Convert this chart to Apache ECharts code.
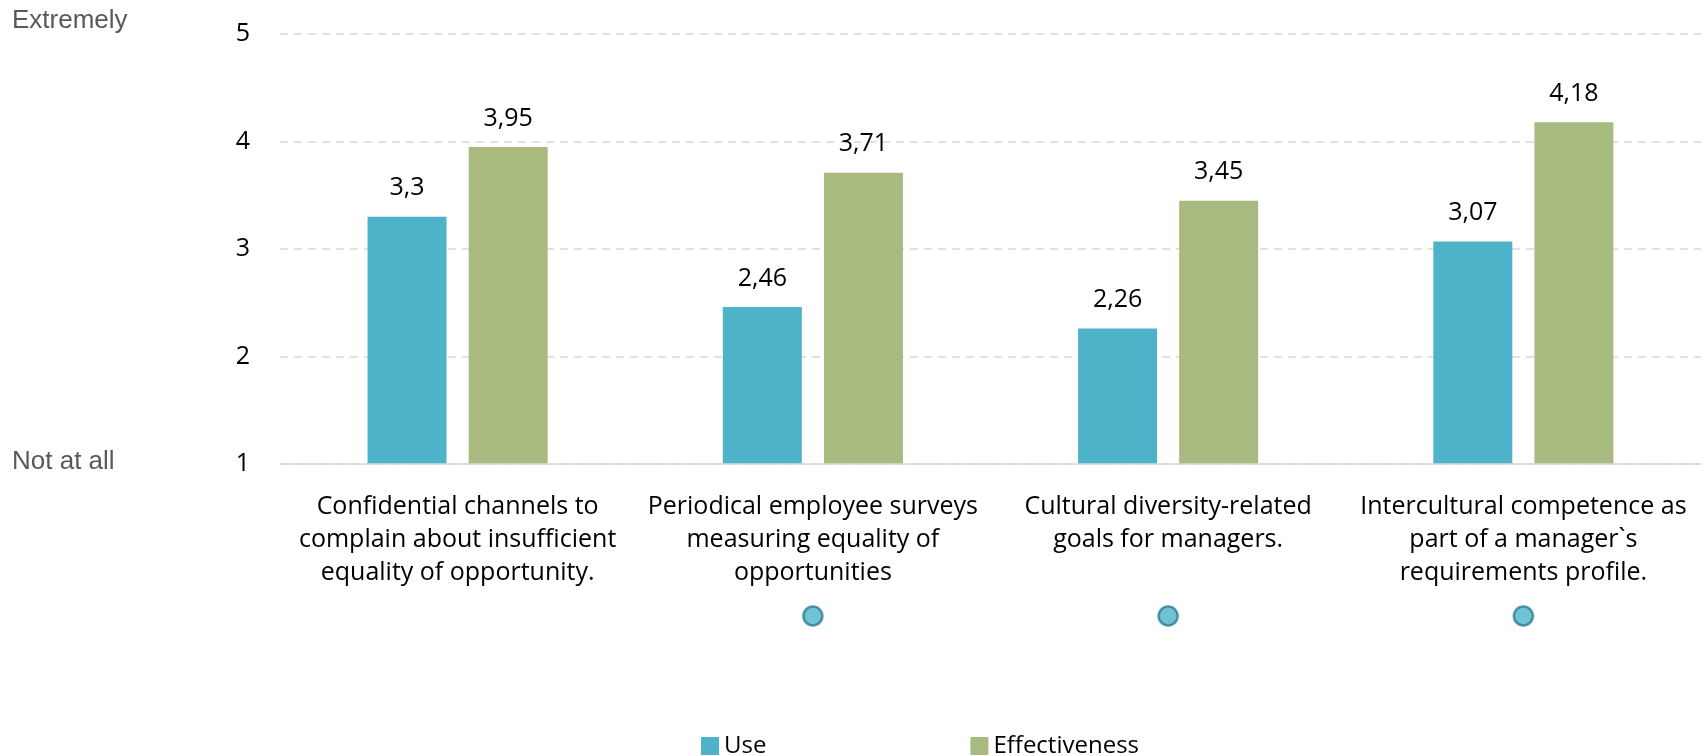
<!DOCTYPE html>
<html><head><meta charset="utf-8">
<script src="https://cdn.jsdelivr.net/npm/echarts@6/dist/echarts.min.js"></script>
<style>html,body{margin:0;padding:0;background:#fff}#c{width:1704px;height:756px}</style>
</head><body><div id="c"></div>
<script>
const categories = [
  "Confidential channels to\ncomplain about insufficient\nequality of opportunity.",
  "Periodical employee surveys\nmeasuring equality of\nopportunities",
  "Cultural diversity-related\ngoals for managers.",
  "Intercultural competence as\npart of a manager`s\nrequirements profile."
];
const useValues = [3.3, 2.46, 2.26, 3.07];
const effectivenessValues = [3.95, 3.71, 3.45, 4.18];
const dotCategories = [1, 2, 3];
const yTicks = [1, 2, 3, 4, 5];
const FONT = '"Open Sans"';
const chart = echarts.init(document.getElementById('c'));
const lbl = {
  show: true, position: 'top', distance: 16, color: '#000', fontFamily: FONT, fontSize: 25,
  formatter: p => String(p.value).replace('.', ',')
};
chart.setOption({
  animation: false,
  grid: [
    {left: 280, right: 3, top: 34, height: 430},
    {left: 280, right: 3, top: 596, height: 40}
  ],
  graphic: [
    {type: 'text', left: 12, top: 8, style: {text: 'Extremely', fill: '#595959', font: '26px "Liberation Sans"'}},
    {type: 'text', left: 12, top: 449, style: {text: 'Not at all', fill: '#595959', font: '26px "Liberation Sans"'}}
  ],
  legend: {
    bottom: -7, left: 696, itemWidth: 18, itemHeight: 18, itemGap: 204,
    icon: 'rect',
    textStyle: {fontFamily: FONT, fontSize: 24, color: '#000'},
    data: ['Use', 'Effectiveness']
  },
  xAxis: [
    {type: 'category', data: categories, gridIndex: 0,
     axisLine: {show: false}, axisTick: {show: false},
     axisLabel: {fontFamily: FONT, fontSize: 25, color: '#000', lineHeight: 33, margin: 26, interval: 0}},
    {type: 'category', data: categories, gridIndex: 1, show: false}
  ],
  yAxis: [
    {type: 'value', min: 1, max: 5, interval: 1, gridIndex: 0,
     axisLabel: {fontFamily: FONT, fontSize: 25, color: '#000', margin: 30},
     axisLine: {show: false}, axisTick: {show: false},
     splitLine: {lineStyle: {type: [8, 6], color: '#D9D9D9', width: 1.5}}},
    {type: 'value', min: 0, max: 2, gridIndex: 1, show: false}
  ],
  series: [
    {name: 'Use', type: 'bar', data: useValues, barWidth: 79, barGap: '28%',
     itemStyle: {color: '#4EB3C8'}, label: lbl},
    {name: 'Effectiveness', type: 'bar', data: effectivenessValues, barWidth: 79,
     itemStyle: {color: '#A8BA80'}, label: lbl,
     markLine: {silent: true, symbol: 'none', label: {show: false},
       lineStyle: {color: '#D9D9D9', type: 'solid', width: 1.5}, data: [{yAxis: 1}]}},
    {name: 'dots', type: 'scatter', xAxisIndex: 1, yAxisIndex: 1,
     data: dotCategories.map(i => [i, 1]), symbolSize: 19,
     itemStyle: {color: '#4EB3C8', borderColor: '#2A7F92', borderWidth: 2.5}}
  ]
});
</script></body></html>
